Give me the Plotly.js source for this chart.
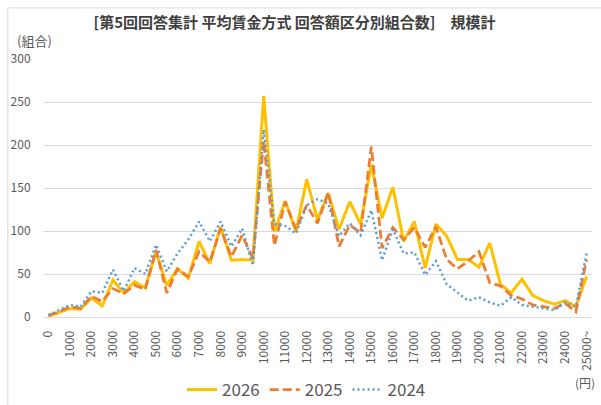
<!DOCTYPE html>
<html>
<head>
<meta charset="utf-8">
<script src="https://cdn.plot.ly/plotly-3.0.1.min.js"></script>
<style>html,body{margin:0;padding:0;background:#fff;}#chart{width:601px;height:405px;}</style>
</head>
<body>
<div id="chart"></div>
<script>
const categories = ["0","500","1000","1500","2000","2500","3000","3500","4000","4500",
  "5000","5500","6000","6500","7000","7500","8000","8500","9000","9500",
  "10000","10500","11000","11500","12000","12500","13000","13500","14000","14500",
  "15000","15500","16000","16500","17000","17500","18000","18500","19000","19500",
  "20000","20500","21000","21500","22000","22500","23000","23500","24000","24500","25000~"];

const tickLabels = ["0","1000","2000","3000","4000","5000","6000","7000","8000","9000",
  "10000","11000","12000","13000","14000","15000","16000","17000","18000","19000",
  "20000","21000","22000","23000","24000","25000~"];

const s2026 = [1,5,10,9,22,13,43,28,41,34,
  76,37,56,45,88,62,105,66,67,66,
  257,99,135,99,160,113,144,102,134,108,
  177,115,151,88,111,57,108,94,67,67,
  58,86,38,28,44,25,19,15,19,12,47];

const s2025 = [2,6,12,10,24,18,33,27,37,32,
  78,28,56,47,76,64,103,70,95,68,
  205,83,134,102,130,109,145,82,107,98,
  198,80,104,90,104,81,105,67,56,65,
  76,40,36,25,21,14,12,10,16,6,67];

const s2024 = [2,8,14,12,30,28,55,30,57,50,
  84,53,74,90,111,88,111,82,103,60,
  218,108,106,97,130,137,132,94,109,95,
  124,66,102,74,75,49,65,38,28,19,
  23,17,13,23,14,12,10,8,17,12,74];

const seriesNames = ["2026","2025","2024"];
const markerCats = ["10000","15000"];

const font = "'Noto Sans CJK JP', 'Noto Sans', sans-serif";

const traces = [
  {x: categories, y: s2026, name: seriesNames[0], type: "scatter", mode: "lines",
   line: {color: "#FFC000", width: 3}},
  {x: categories, y: s2025, name: seriesNames[1], type: "scatter", mode: "lines",
   line: {color: "#ED7D31", width: 2.75, dash: "9px,4px"}},
  {x: categories, y: s2024, name: seriesNames[2], type: "scatter", mode: "lines",
   line: {color: "#5B9BD5", width: 2.5, dash: "2px,3px"}}
];

const shapes = markerCats.map(c => ({
  type: "line", xref: "x", yref: "paper", x0: c, x1: c, y0: -0.205, y1: 0.985,
  line: {color: "#E8404F", width: 1.5, dash: "4px,3px"}, layer: "above"
}));
shapes.push({type: "rect", xref: "paper", yref: "paper", x0: -0.064, x1: 1.2, y0: -0.6, y1: 1.198,
  line: {color: "#D9D9D9", width: 1}, fillcolor: "rgba(0,0,0,0)", layer: "below"});

const layout = {
  width: 601, height: 405,
  margin: {l: 43, r: 9, t: 59, b: 88, autoexpand: false},
  paper_bgcolor: "#fff", plot_bgcolor: "#fff",
  font: {family: font, color: "#595959", size: 12},
  title: {text: "<b>[第5回回答集計 平均賃金方式 回答額区分別組合数]　規模計</b>",
    font: {family: font, size: 15, color: "#404040"}, x: 0.49, xanchor: "center", y: 0.945, yanchor: "middle"},
  showlegend: true,
  legend: {orientation: "h", x: 0.48, xanchor: "center", y: -0.283, yanchor: "middle",
    font: {family: font, size: 17, color: "#595959"}, traceorder: "normal"},
  xaxis: {type: "category", range: [-0.5, 50.5], tickvals: tickLabels, ticktext: tickLabels,
    tickangle: -90, showgrid: false, zeroline: false, showline: false,
    ticks: "outside", ticklen: 8, tickcolor: "rgba(0,0,0,0)", automargin: false,
    tickfont: {family: font, size: 12, color: "#595959"}, fixedrange: true},
  yaxis: {range: [0, 300], dtick: 50, tick0: 0, showgrid: true, gridcolor: "#D9D9D9", gridwidth: 1,
    zeroline: true, zerolinecolor: "#D9D9D9", zerolinewidth: 1, showline: false,
    ticks: "outside", ticklen: 9, tickcolor: "rgba(0,0,0,0)", automargin: false,
    tickfont: {family: font, size: 12, color: "#595959"}, fixedrange: true},
  shapes: shapes,
  annotations: [
    {text: "(組合)", xref: "paper", yref: "paper", x: -0.051, y: 1.07, xanchor: "left", yanchor: "middle",
     showarrow: false, font: {family: font, size: 13, color: "#595959"}},
    {text: "(円)", xref: "paper", yref: "paper", x: 1.01, y: -0.255, xanchor: "right", yanchor: "middle",
     showarrow: false, font: {family: font, size: 12, color: "#595959"}}
  ]
};

Plotly.newPlot("chart", traces, layout, {displayModeBar: false, staticPlot: true});
</script>
</body>
</html>
